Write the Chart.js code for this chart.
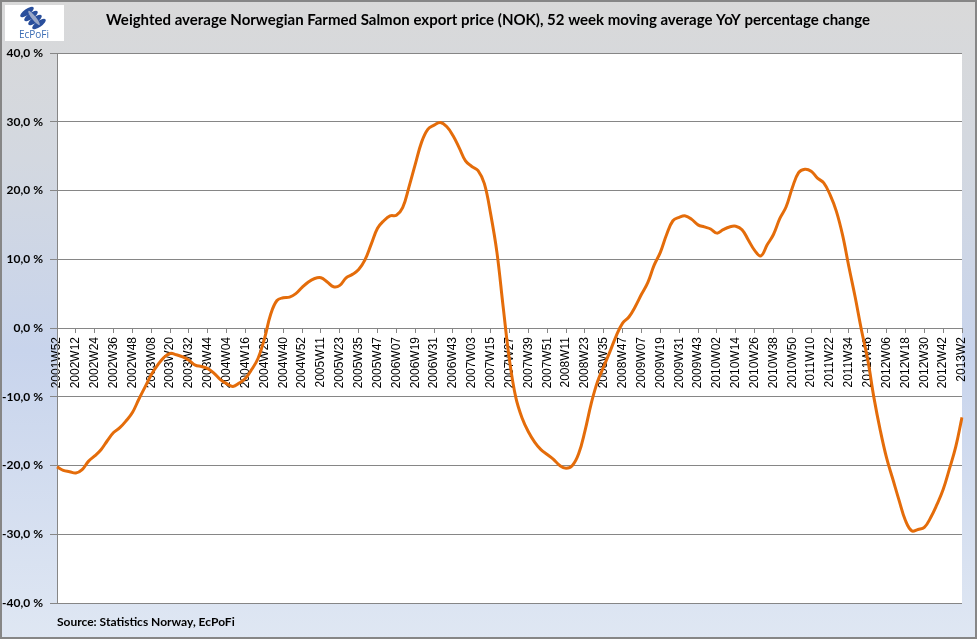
<!DOCTYPE html>
<html>
<head>
<meta charset="utf-8">
<script src="https://cdn.jsdelivr.net/npm/chart.js@4/dist/chart.umd.min.js"></script>
<style>
  html, body { margin: 0; padding: 0; background: #fff; }
  canvas { display: block; }
</style>
</head>
<body>
<canvas id="myChart" width="977" height="639"></canvas>
<script>
// week labels shown on the x axis (every 12th week)
const weekTicks = [
  '2001W52', '2002W12', '2002W24', '2002W36', '2002W48', '2003W08', '2003W20',
  '2003W32', '2003W44', '2004W04', '2004W16', '2004W28', '2004W40', '2004W52',
  '2005W11', '2005W23', '2005W35', '2005W47', '2006W07', '2006W19', '2006W31',
  '2006W43', '2007W03', '2007W15', '2007W27', '2007W39', '2007W51', '2008W11',
  '2008W23', '2008W35', '2008W47', '2009W07', '2009W19', '2009W31', '2009W43',
  '2010W02', '2010W14', '2010W26', '2010W38', '2010W50', '2011W10', '2011W22',
  '2011W34', '2011W46', '2012W06', '2012W18', '2012W30', '2012W42', '2013W2'
];

// YoY % change, read every 4 weeks from 2001W52
const yoyChange = [
  -20.2, -20.7, -20.9, -21.1, -20.6, -19.4, -18.6, -17.7, -16.4, -15.2,
  -14.5, -13.5, -12.3, -10.4, -8.6, -6.8, -5.4, -4.3, -3.7, -3.9,
  -4.2, -4.7, -5.4, -5.6, -5.9, -6.6, -7.5, -8.1, -8.5, -8.0,
  -7.3, -6.0, -4.4, -1.6, 2.0, 4.0, 4.4, 4.5, 5.0, 5.9,
  6.7, 7.2, 7.3, 6.7, 6.0, 6.2, 7.3, 7.8, 8.5, 9.9,
  12.2, 14.5, 15.6, 16.3, 16.4, 17.5, 20.5, 23.8, 27.0, 28.9,
  29.5, 29.9, 29.3, 28.0, 26.2, 24.3, 23.5, 22.9, 21.0, 16.6,
  11.0, 3.0, -4.7, -10.1, -13.1, -15.1, -16.6, -17.7, -18.4, -19.1,
  -20.0, -20.4, -20.0, -18.3, -15.0, -11.0, -7.8, -5.6, -3.4, -1.1,
  0.7, 1.6, 3.1, 4.9, 6.6, 9.1, 11.0, 13.6, 15.6, 16.1,
  16.3, 15.8, 15.0, 14.7, 14.4, 13.8, 14.3, 14.7, 14.8, 14.3,
  12.8, 11.3, 10.5, 12.1, 13.6, 15.9, 17.6, 20.4, 22.6, 23.1,
  22.8, 21.8, 21.1, 19.4, 17.0, 13.5, 8.9, 4.5, -0.3, -4.6,
  -10.2, -14.9, -18.9, -22.0, -25.1, -28.0, -29.5, -29.3, -29.0, -27.6,
  -25.7, -23.5, -20.5, -17.3, -13.0
];

const titleText = 'Weighted average Norwegian Farmed Salmon export price (NOK), 52 week moving average YoY percentage change';
const sourceText = 'Source: Statistics Norway, EcPoFi';

const labels = yoyChange.map(function (v, i) {
  return i % 3 === 0 ? weekTicks[i / 3] : '';
});

// background, frame, logo, title and source
const decor = {
  id: 'decor',
  beforeDraw: function (chart) {
    const ctx = chart.ctx;
    const w = chart.width, h = chart.height;
    const a = chart.chartArea;
    ctx.save();
    const g = ctx.createLinearGradient(0, 0, 0, h);
    g.addColorStop(0, '#d9d9d9');
    g.addColorStop(0.25, '#d3d8e0');
    g.addColorStop(0.55, '#c8d4ec');
    g.addColorStop(1, '#dfe7f3');
    ctx.fillStyle = g;
    ctx.fillRect(0, 0, w, h);
    ctx.fillStyle = '#ffffff';
    ctx.fillRect(a.left, a.top, a.right - a.left, a.bottom - a.top);
    ctx.strokeStyle = '#868686';
    ctx.lineWidth = 2;
    ctx.strokeRect(1, 1, w - 2, h - 2);

    // logo
    ctx.fillStyle = '#ffffff';
    ctx.fillRect(5, 5, 59, 36);
    ctx.fillStyle = '#2a4f9c';
    for (let k = 0; k < 4; k++) {
      ctx.beginPath();
      ctx.ellipse(27 + k * 4, 12 + k * 4, 8, 3, -0.6, 0, Math.PI * 2);
      ctx.fill();
    }
    ctx.fillStyle = '#9aa8c8';
    ctx.beginPath();
    ctx.ellipse(34, 18, 9, 2, 0.9, 0, Math.PI * 2);
    ctx.fill();
    ctx.fillStyle = '#3a6cb4';
    ctx.font = '10px "Open Sans", sans-serif';
    ctx.textAlign = 'center';
    ctx.textBaseline = 'middle';
    ctx.fillText('EcPoFi', 34, 35);

    // title
    ctx.fillStyle = '#000000';
    ctx.font = 'bold 15px Lato, sans-serif';
    ctx.fillText(titleText, 488, 20);

    // source
    ctx.textAlign = 'left';
    ctx.font = 'bold 12px Lato, sans-serif';
    ctx.fillText(sourceText, 57, 622);
    ctx.restore();
  }
};

const data = {
  labels: labels,
  datasets: [
    {
      label: 'YoY change',
      data: yoyChange,
      borderColor: '#e46c0a',
      backgroundColor: '#e46c0a',
      borderWidth: 3,
      pointRadius: 0,
      tension: 0.4,
      fill: false
    }
  ]
};

const config = {
  type: 'line',
  data: data,
  options: {
    responsive: false,
    animation: false,
    layout: {
      padding: { top: 53, bottom: 36, left: 0, right: 15 }
    },
    plugins: {
      legend: { display: false },
      tooltip: { enabled: false },
      title: { display: false }
    },
    scales: {
      x: {
        position: { y: 0 },
        offset: false,
        afterFit: function (scale) {
          scale.paddingLeft = 0;
          scale.paddingRight = 0;
        },
        grid: {
          drawOnChartArea: false,
          drawTicks: true,
          tickLength: 4,
          color: '#868686'
        },
        border: { display: true, color: '#868686', width: 1 },
        ticks: {
          autoSkip: false,
          maxRotation: 90,
          minRotation: 90,
          padding: 5,
          color: '#000000',
          font: { family: 'Liberation Sans, Arial, sans-serif', size: 12 },
          callback: function (value, index) {
            return index % 3 === 0 ? weekTicks[index / 3] : null;
          }
        }
      },
      y: {
        min: -40,
        max: 40,
        afterFit: function (scale) { scale.width = 57; },
        grid: {
          color: '#868686',
          lineWidth: 1,
          tickLength: 7
        },
        border: { display: true, color: '#868686' },
        ticks: {
          stepSize: 10,
          padding: 7,
          color: '#000000',
          font: { family: 'Lato, sans-serif', size: 12, weight: 'bold' },
          callback: function (v) {
            return v.toFixed(1).replace('.', ',') + ' %';
          }
        }
      }
    }
  },
  plugins: [decor]
};

const ctx = document.getElementById('myChart');
new Chart(ctx, config);
</script>
</body>
</html>
